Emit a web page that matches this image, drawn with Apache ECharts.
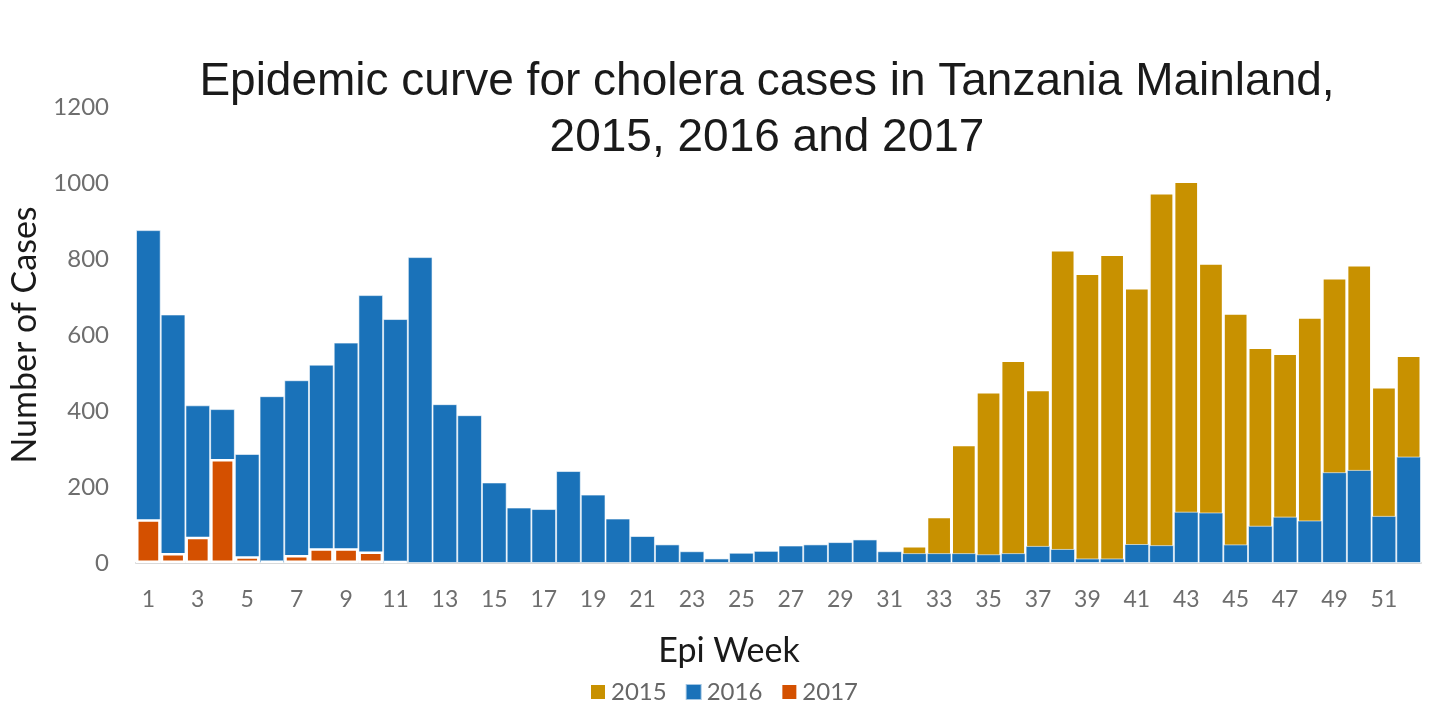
<!DOCTYPE html>
<html>
<head>
<meta charset="utf-8">
<script src="https://cdn.jsdelivr.net/npm/echarts@6/dist/echarts.min.js"></script>
<style>
  html, body { margin: 0; padding: 0; background: #fff; }
  #main { width: 1434px; height: 712px; }
</style>
</head>
<body>
<div id="main"></div>
<script>
let weeks = [];
for (let i = 1; i <= 52; i++) weeks.push(String(i));

let cases2015 = [
	null, null, null, null, null, null, null, null, null, null,
	null, null, null, null, null, null, null, null, null, null,
	null, null, null, null, null, null, null, null, null, null,
	null, 45, 122, 311, 450, 533, 456, 824, 762, 812,
	724, 974, 1004, 789, 657, 567, 551, 647, 750, 784,
	463, 546
];
let cases2016 = [
	876, 654, 415, 405, 287, 439, 481, 522, 580, 705,
	642, 805, 418, 389, 212, 146, 142, 242, 180, 117,
	71, 49, 31, 12, 27, 32, 46, 49, 55, 62,
	31, 26, 26, 26, 23, 26, 45, 37, 12, 12,
	50, 47, 135, 133, 49, 98, 122, 112, 239, 245,
	124, 280
];
let cases2017 = [115, 26, 69, 274, 18, 6, 21, 39, 39, 30, 5];

let yTicks = [0, 200, 400, 600, 800, 1000, 1200];

let chartDom = document.getElementById('main');
let myChart = echarts.init(chartDom);
let labelFont = 'Lato, "Open Sans", sans-serif';

let option = {
	animation: false,
	title: [{
			text: 'Epidemic curve for cholera cases in Tanzania Mainland,\n2015, 2016 and 2017',
			left: 762,
			top: 49,
			textAlign: 'center',
			textStyle: {
				fontFamily: '"Liberation Sans", Arial, sans-serif',
				fontSize: 46,
				fontWeight: 'normal',
				lineHeight: 56,
				color: '#1a1a1a'
			}
		},
		{
			text: 'Epi Week',
			left: 724,
			top: 629,
			textAlign: 'center',
			textStyle: {
				fontFamily: labelFont,
				fontSize: 34,
				fontWeight: 'normal',
				color: '#1a1a1a'
			}
		}
	],
	legend: {
		data: ['2015', '2016', '2017'],
		left: 584,
		top: 675,
		icon: 'rect',
		itemWidth: 16,
		itemHeight: 16,
		itemGap: 18,
		textStyle: {
			fontFamily: labelFont,
			fontSize: 24,
			color: '#666'
		}
	},
	grid: {
		left: 133,
		right: 13,
		top: 107,
		bottom: 149
	},
	xAxis: {
		type: 'category',
		data: weeks,
		axisLine: {
			lineStyle: {
				color: '#d9d9d9',
				width: 2
			}
		},
		axisTick: { show: false },
		axisLabel: {
			interval: 1,
			margin: 25,
			fontFamily: labelFont,
			fontSize: 23,
			color: '#6e6e6e'
		}
	},
	yAxis: {
		type: 'value',
		min: yTicks[0],
		max: yTicks[yTicks.length - 1],
		interval: 200,
		name: 'Number of Cases',
		nameLocation: 'middle',
		nameGap: 94,
		nameTextStyle: {
			fontFamily: labelFont,
			fontSize: 34,
			color: '#1a1a1a'
		},
		axisLine: { show: false },
		axisTick: { show: false },
		splitLine: { show: false },
		axisLabel: {
			margin: 27,
			fontFamily: labelFont,
			fontSize: 24,
			color: '#6e6e6e',
			formatter: function(v) {
				return String(v);
			}
		}
	},
	series: [{
			name: '2015',
			type: 'bar',
			data: cases2015,
			barCategoryGap: 0,
			barGap: '-100%',
			itemStyle: {
				color: '#C89100',
				borderColor: '#fff',
				borderWidth: 1.5
			}
		},
		{
			name: '2016',
			type: 'bar',
			data: cases2016,
			barCategoryGap: 0,
			barGap: '-100%',
			itemStyle: {
				color: '#1A72B9',
				borderColor: 'rgba(255,255,255,0.6)',
				borderWidth: 1
			}
		},
		{
			name: '2017',
			type: 'bar',
			data: cases2017,
			barCategoryGap: 0,
			barGap: '-100%',
			itemStyle: {
				color: '#D45000',
				borderColor: '#fff',
				borderWidth: 2.5
			}
		}
	]
};

option && myChart.setOption(option);
</script>
</body>
</html>
